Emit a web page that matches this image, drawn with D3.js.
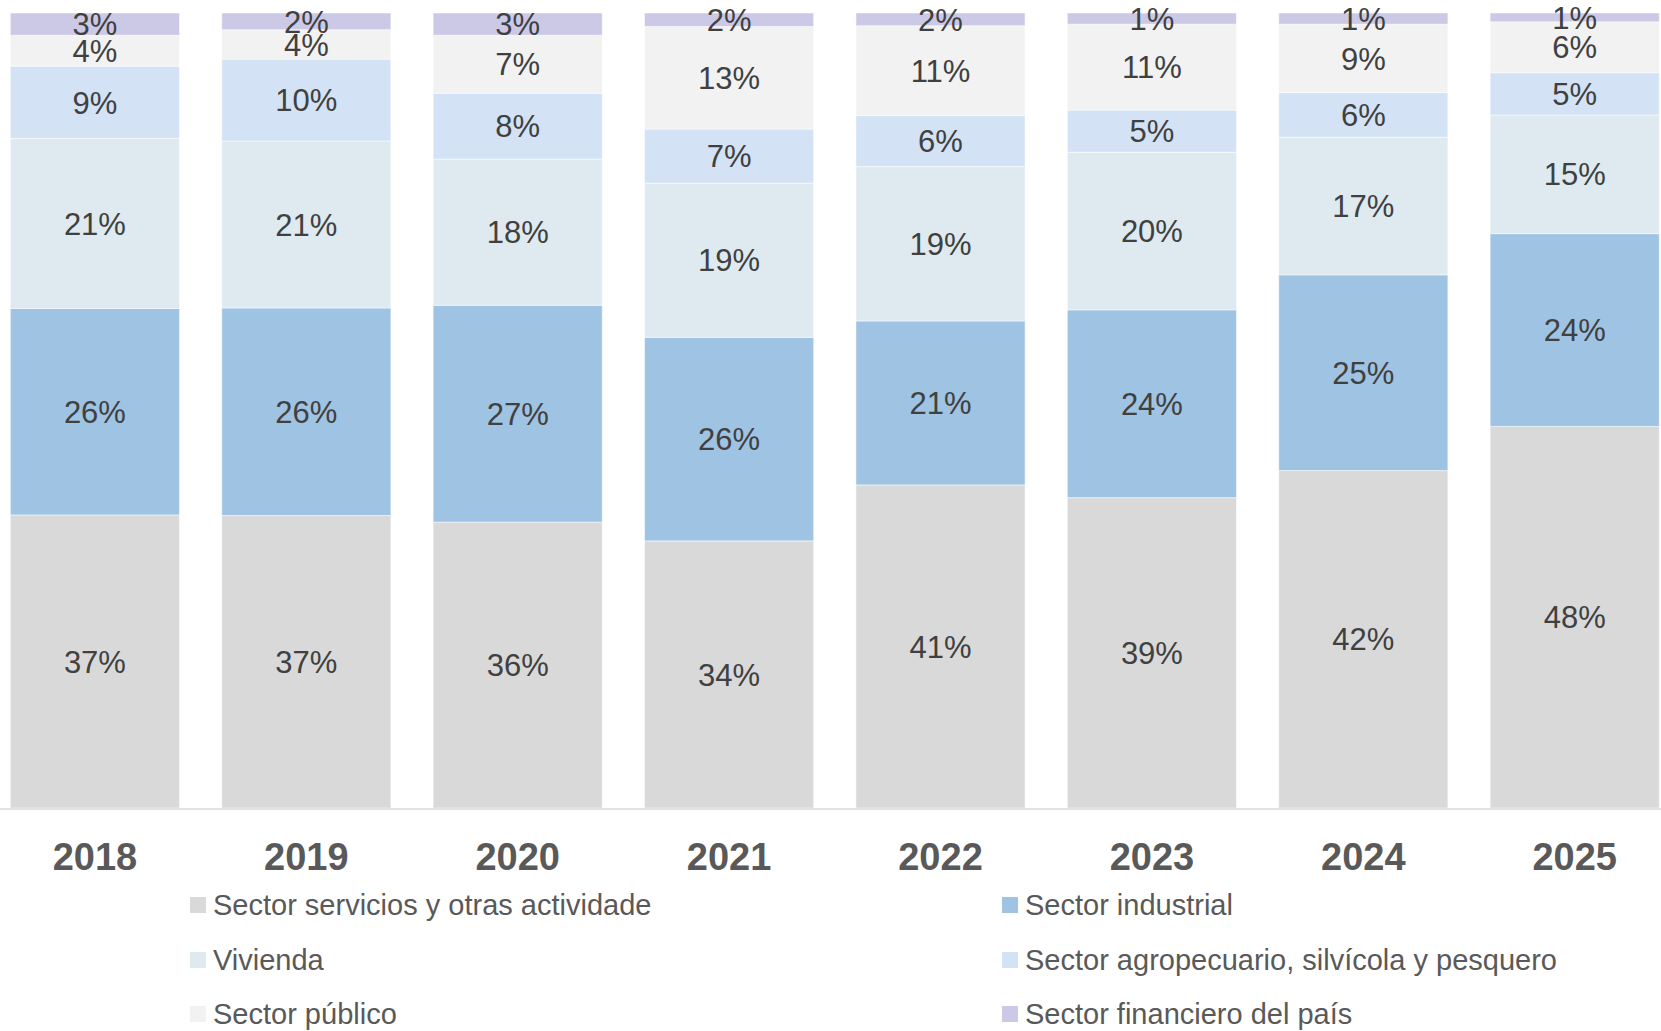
<!DOCTYPE html>
<html>
<head>
<meta charset="utf-8">
<script src="https://cdn.jsdelivr.net/npm/d3@7"></script>
<style>
  html, body { margin: 0; padding: 0; background: #ffffff; }
  svg { display: block; font-family: "Liberation Sans", Arial, sans-serif; }
</style>
</head>
<body>
<svg id="chart" width="1661" height="1031"></svg>
<script>
// ---- Data (shares in %) ----
const years = ["2018", "2019", "2020", "2021", "2022", "2023", "2024", "2025"];
const seriesNames = [
  "Sector servicios y otras actividade",
  "Sector industrial",
  "Vivienda",
  "Sector agropecuario, silvícola y pesquero",
  "Sector público",
  "Sector financiero del país"
];
const serviciosVals  = [36.9, 36.8, 36.0, 33.6, 40.6, 39.0, 42.4, 47.9];
const industrialVals = [26.0, 26.1, 27.3, 25.6, 20.6, 23.6, 24.6, 24.2];
const viviendaVals   = [21.4, 21.0, 18.4, 19.4, 19.4, 19.8, 17.3, 14.9];
const agroVals       = [9.1, 10.3, 8.3, 6.8, 6.4, 5.3, 5.6, 5.3];
const publicoVals    = [3.9, 3.7, 7.3, 12.9, 11.3, 10.8, 8.6, 6.4];
const financieroVals = [2.8, 2.1, 2.8, 1.7, 1.6, 1.4, 1.4, 1.1];
const seriesColors = ["#d9d9d9", "#9fc3e2", "#deeaef", "#d3e3f5", "#f2f2f2", "#cbc9e6"];

const seriesVals = [serviciosVals, industrialVals, viviendaVals, agroVals, publicoVals, financieroVals];
const keys = seriesNames;
const rows = years.map((y, i) => {
  const r = { year: y };
  keys.forEach((k, j) => { r[k] = seriesVals[j][i]; });
  return r;
});

const svg = d3.select("#chart");

const bottomY = 808, topY = 13;
const x = d3.scaleBand().domain(years)
  .range([-10.8, 1680.4]).paddingInner(0.2).paddingOuter(0.1);
const y = d3.scaleLinear().domain([0, 1]).range([bottomY, topY]);
const color = d3.scaleOrdinal().domain(keys).range(seriesColors);

const stack = d3.stack().keys(keys).offset(d3.stackOffsetExpand);
const stacked = stack(rows);

const layers = svg.append("g").selectAll("g")
  .data(stacked).join("g")
  .attr("fill", d => color(d.key));

layers.selectAll("rect")
  .data(d => d.map(p => ({ p, key: d.key })))
  .join("rect")
  .attr("x", d => x(d.p.data.year))
  .attr("width", x.bandwidth())
  .attr("y", d => y(d.p[1]))
  .attr("height", d => y(d.p[0]) - y(d.p[1]))
  .attr("stroke", "#ffffff")
  .attr("stroke-opacity", 0.5)
  .attr("stroke-width", 1);

// data labels
const labelG = svg.append("g");
stacked.forEach(layer => {
  labelG.selectAll(null)
    .data(layer)
    .join("text")
    .attr("x", d => x(d.data.year) + x.bandwidth() / 2)
    .attr("y", d => (y(d[0]) + y(d[1])) / 2)
    .attr("dy", "0.36em")
    .attr("text-anchor", "middle")
    .attr("font-size", 31)
    .attr("fill", "#404040")
    .text(d => Math.round(d.data[layer.key]) + "%");
});

// x axis
const xAxis = d3.axisBottom(x).tickSize(0).tickSizeOuter(0).tickPadding(34);
const axG = svg.append("g").attr("transform", `translate(0,${bottomY + 1})`).call(xAxis);
axG.select(".domain").remove();
axG.selectAll("text")
  .attr("font-size", 38)
  .attr("font-weight", "bold")
  .attr("fill", "#595959")
  .attr("font-family", "'Liberation Sans', Arial, sans-serif");
svg.append("line")
  .attr("x1", 0).attr("x2", 1661)
  .attr("y1", bottomY + 1).attr("y2", bottomY + 1)
  .attr("stroke", "#d9d9d9").attr("stroke-width", 1.5);

// legend
const legendCols = [190, 1002];
const legendRows = [905, 960, 1014];
const leg = svg.append("g").selectAll("g")
  .data(keys).join("g")
  .attr("transform", (d, i) => `translate(${legendCols[i % 2]},${legendRows[Math.floor(i / 2)]})`);
leg.append("rect")
  .attr("x", 0).attr("y", -8).attr("width", 16).attr("height", 16)
  .attr("fill", d => color(d));
leg.append("text")
  .attr("x", 23).attr("y", 0).attr("dy", "0.36em")
  .attr("font-size", 29)
  .attr("fill", "#595959")
  .text(d => d);
</script>
</body>
</html>
